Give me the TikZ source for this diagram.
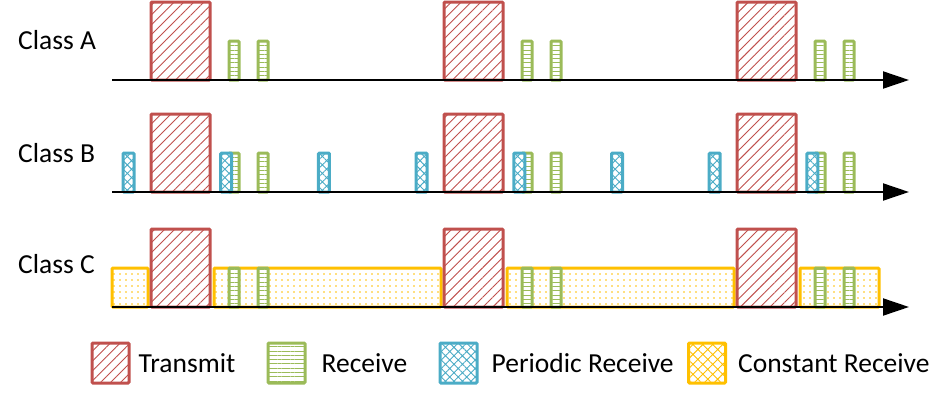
\documentclass[tikz,border=0pt]{standalone}
\usepackage{fontspec}
\setmainfont{Carlito}
\usepackage{tikz}
\usetikzlibrary{positioning,arrows.meta,patterns.meta}
\definecolor{txc}{HTML}{C0504D}
\definecolor{rxc}{HTML}{9BBB59}
\definecolor{prc}{HTML}{4BACC6}
\definecolor{crc}{HTML}{FFC000}
\tikzset{
  slot/.style={line width=3pt, rounded corners=1pt, preaction={fill=white}},
  txbox/.style={slot, draw=txc, pattern={Lines[angle=45,distance=7pt,line width=0.9pt]}, pattern color=txc},
  rxbox/.style={slot, draw=rxc, pattern={Lines[angle=0,distance=4.3pt,line width=0.9pt]}, pattern color=rxc},
  prbox/.style={slot, draw=prc, pattern={Hatch[angle=45,distance=6pt,line width=0.9pt]}, pattern color=prc},
  crbox/.style={slot, draw=crc, pattern={Dots[distance=6pt,radius=0.9pt]}, pattern color=crc},
  crkey/.style={slot, draw=crc, pattern={Hatch[angle=45,distance=7pt,line width=0.9pt]}, pattern color=crc},
  axis/.style={line width=2pt, -{Triangle[length=26pt,width=17pt]}},
  lbl/.style={font={\fontsize{27.5}{32}\selectfont}, inner sep=0pt},
  key/.style={minimum width=37pt, minimum height=40pt, inner sep=0pt},
  keytxt/.style={lbl, text height=18pt, text depth=0pt},
}

\begin{document}
\begin{tikzpicture}[x=1pt, y=-1pt]
  \useasboundingbox (0,0) rectangle (948,394);

  \node[lbl, anchor=base west] (clsa) at (18,49) {Class A};
  \node[lbl, anchor=base west] (clsb) at (18,162) {Class B};
  \node[lbl, anchor=base west] (clsc) at (18,273) {Class C};

  % constant receive windows, class C
  \foreach \a/\b in {112/148,214/441,507/734,800/879}
    \draw[crbox] (\a,307) rectangle (\b,268);

  % uplink slots and the two receive windows after each
  \foreach \t in {151,444,737} {
    \foreach \y in {80,192,307} {
      \draw[txbox] (\t,\y) rectangle ++(59,-78);
      \foreach \d in {78,107} \draw[rxbox] (\t+\d,\y) rectangle ++(10,-39);
    }
  }

  % beacon-synchronised slots, class B
  \foreach \k in {0,...,7}
    \draw[prbox] (123+97.7*\k,192) rectangle ++(11,-39);

  \foreach \y in {80,192,307} \draw[axis] (112,\y) -- (909,\y);

  \node[key, txbox] (keytx) at (110.5,363) {};
  \node[keytxt, right=8pt of keytx] (keytxl) {Transmit};
  \node[key, rxbox] (keyrx) at (286.5,363) {};
  \node[keytxt, right=15pt of keyrx] (keyrxl) {Receive};
  \node[key, prbox] (keypr) at (458.5,363) {};
  \node[keytxt, right=13pt of keypr] (keyprl) {Periodic Receive};
  \node[key, crkey] (keycr) at (707,363) {};
  \node[keytxt, right=12pt of keycr] (keycrl) {Constant Receive};
\end{tikzpicture}
\end{document}
